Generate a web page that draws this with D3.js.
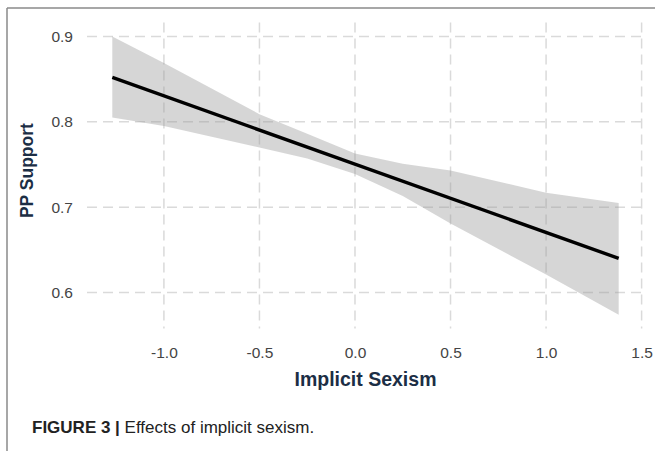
<!DOCTYPE html>
<html>
<head>
<meta charset="utf-8">
<script src="https://cdn.jsdelivr.net/npm/d3@7"></script>
<style>
  body { margin: 0; background: #fff; }
  svg { display: block; font-family: "Liberation Sans", Arial, sans-serif; }
</style>
</head>
<body>
<div id="chart"></div>
<script>
// values
let ribbonX     = [-1.27, -1.0, -0.5, -0.25, 0.0, 0.25, 0.5, 1.0, 1.38];
let ribbonUpper = [0.900, 0.869, 0.809, 0.786, 0.763, 0.751, 0.743, 0.717, 0.705];
let ribbonLower = [0.805, 0.795, 0.770, 0.757, 0.739, 0.713, 0.681, 0.621, 0.574];
let fitX = [-1.27, 1.38];
let fitY = [0.852, 0.640];
let xTicks = [-1.0, -0.5, 0.0, 0.5, 1.0, 1.5];
let yTicks = [0.6, 0.7, 0.8, 0.9];

let W = 655, H = 451;
let panel = { left: 87, right: 644, top: 22.6, bottom: 328.6 };

let svg = d3.select("#chart").append("svg")
  .attr("width", W)
  .attr("height", H);

// frame lines (top and left only)
svg.append("line")
  .attr("x1", 7).attr("x2", W).attr("y1", 8).attr("y2", 8)
  .attr("stroke", "#8a8a8a").attr("stroke-width", 1.5);
svg.append("line")
  .attr("x1", 7).attr("x2", 7).attr("y1", 8).attr("y2", H)
  .attr("stroke", "#8a8a8a").attr("stroke-width", 1.5);

let x = d3.scaleLinear().domain([-1.4025, 1.5125]).range([panel.left, panel.right]);
let y = d3.scaleLinear().domain([0.5577, 0.9163]).range([panel.bottom, panel.top]);

// gridlines
let grid = svg.append("g")
  .attr("stroke", "#dadada")
  .attr("stroke-width", 1.5)
  .attr("stroke-dasharray", "10,6");
grid.selectAll(".gx").data(xTicks).join("line")
  .attr("x1", d => x(d)).attr("x2", d => x(d))
  .attr("y1", panel.top).attr("y2", panel.bottom);
grid.selectAll(".gy").data(yTicks).join("line")
  .attr("y1", d => y(d)).attr("y2", d => y(d))
  .attr("x1", panel.left).attr("x2", panel.right);

// confidence ribbon
let band = ribbonX.map((d, i) => ({ x: d, lo: ribbonLower[i], hi: ribbonUpper[i] }));
svg.append("path")
  .datum(band)
  .attr("fill", "#999999")
  .attr("fill-opacity", 0.4)
  .attr("d", d3.area()
    .x(d => x(d.x))
    .y0(d => y(d.lo))
    .y1(d => y(d.hi)));

// fitted line
svg.append("path")
  .datum(fitX.map((d, i) => [d, fitY[i]]))
  .attr("fill", "none")
  .attr("stroke", "#000")
  .attr("stroke-width", 3.4)
  .attr("d", d3.line().x(d => x(d[0])).y(d => y(d[1])));

// axes (labels only, no ticks or domain)
let xAxis = svg.append("g")
  .attr("transform", `translate(0,${panel.bottom + 4})`)
  .call(d3.axisBottom(x).tickValues(xTicks).tickFormat(d3.format(".1f")).tickSize(0).tickPadding(14));
let yAxis = svg.append("g")
  .attr("transform", `translate(${panel.left - 14},0)`)
  .call(d3.axisLeft(y).tickValues(yTicks).tickFormat(d3.format(".1f")).tickSize(0).tickPadding(0));
[xAxis, yAxis].forEach(a => {
  a.select(".domain").remove();
  a.selectAll("text")
    .attr("fill", "#444")
    .style("font-size", "15.5px")
    .style("font-family", "'Liberation Sans', Arial, sans-serif");
});
xAxis.selectAll("text").text(d => d3.format(".1f")(d).replace("−", "-"));

// axis titles
svg.append("text")
  .attr("x", (panel.left + panel.right) / 2)
  .attr("y", 386)
  .attr("text-anchor", "middle")
  .attr("fill", "#1c2e45")
  .style("font-size", "19.5px")
  .style("font-weight", "bold")
  .text("Implicit Sexism");

svg.append("text")
  .attr("transform", `translate(33,${(panel.top + panel.bottom) / 2 - 5}) rotate(-90)`)
  .attr("text-anchor", "middle")
  .attr("fill", "#1c2e45")
  .style("font-size", "17.5px")
  .style("font-weight", "bold")
  .text("PP Support");

// caption
let cap = svg.append("text")
  .attr("x", 32)
  .attr("y", 433)
  .attr("fill", "#222")
  .style("font-size", "17px");
cap.append("tspan").style("font-weight", "bold").text("FIGURE 3 | ");
cap.append("tspan").text("Effects of implicit sexism.");
</script>
</body>
</html>
